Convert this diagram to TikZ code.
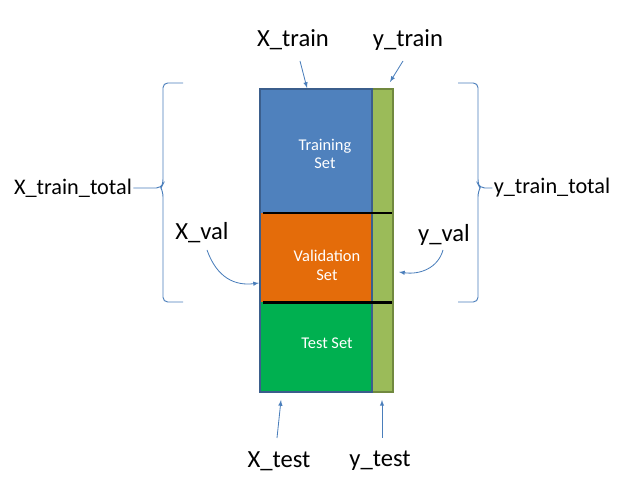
\documentclass[tikz,border=0pt]{standalone}
\usepackage{fontspec}
\setmainfont{Carlito}
\usetikzlibrary{positioning}
\definecolor{setblue}{HTML}{4F81BD}
\definecolor{setorange}{HTML}{E46C0A}
\definecolor{setgreen}{HTML}{00B050}
\definecolor{striplime}{HTML}{9BBB59}
\definecolor{stripedge}{HTML}{71893F}
\definecolor{boxedge}{HTML}{3B5E8C}
\definecolor{callout}{HTML}{4A7EBB}
\begin{document}
\begin{tikzpicture}[x=0.03cm, y=-0.03cm]

    % Styles
    \tikzstyle{setbox} = [rectangle, minimum width=3.36cm, inner sep=0pt, outer sep=0pt]
    \tikzstyle{settext} = [text=white, font=\fontsize{14}{16}\selectfont, align=center, inner sep=1pt]
    \tikzstyle{biglabel} = [font=\fontsize{21}{24}\selectfont, inner sep=1pt]
    \tikzstyle{totallabel} = [font=\fontsize{19}{22}\selectfont, inner sep=1pt]
    \tikzstyle{arrow} = [callout, line width=0.7pt, -latex]
    \tikzstyle{brace} = [callout, line width=0.8pt, rounded corners=4pt]

    \useasboundingbox (0,0) rectangle (634,488);

    % Noeuds
    \node (train) [setbox, minimum height=3.72cm, fill=setblue] at (316,151) {};
    \node (val) [setbox, minimum height=2.67cm, fill=setorange] at (316,258) {};
    \node (test) [setbox, minimum height=2.7cm, fill=setgreen] at (316,347) {};
    \node (strip) [rectangle, minimum width=0.63cm, minimum height=9.09cm, inner sep=0pt, fill=striplime, draw=stripedge, line width=2pt] at (382.5,240.5) {};
    \draw [boxedge, line width=2.5pt] (train.north west) rectangle (test.south east);
    \draw [line width=2.4pt] (263,213) -- (392,213);
    \draw [line width=2.4pt] (263,302.5) -- (392,302.5);

    \node (train-txt) [settext] at (325,154) {Training\\Set};
    \node (val-txt) [settext] at (327,265) {Validation\\Set};
    \node (test-txt) [settext] at (327,343) {Test Set};

    \node (xtrain) [biglabel] at (293,40) {X\_train};
    \node (ytrain) [biglabel] at (408,40) {y\_train};
    \node (xval) [biglabel] at (202,233) {X\_val};
    \node (yval) [biglabel] at (444,235) {y\_val};
    \node (xtest) [biglabel] at (279,461) {X\_test};
    \node (ytest) [biglabel] at (380,461) {y\_test};
    \node (xtotal) [totallabel] at (73,188) {X\_train\_total};
    \node (ytotal) [totallabel] at (552,188) {y\_train\_total};

    \coordinate (xtrain-end) at (307,88);
    \coordinate (ytrain-end) at (390,82);
    \coordinate (xval-end) at (259,283);
    \coordinate (yval-end) at (399,272);
    \coordinate (xtest-end) at (281,400);
    \coordinate (ytest-end) at (382,400);

    % Accolades
    \draw [brace] (xtotal.east) -- (161,188) -- (163,184) -- (163,83) -- (183,83);
    \draw [brace] (161,188) -- (163,192) -- (163,302) -- (183,302);
    \draw [brace] (ytotal.west) -- (480,188) -- (478,184) -- (478,83) -- (458,83);
    \draw [brace] (480,188) -- (478,192) -- (478,302) -- (458,302);

    % Flèches
    \draw [arrow] (300,61) -- (xtrain-end);
    \draw [arrow] (403,61) -- (ytrain-end);
    \draw [arrow] (207,250) .. controls (217,278) and (235,286) .. (xval-end);
    \draw [arrow] (443,250) .. controls (438,268) and (420,275) .. (yval-end);
    \draw [arrow] (277,438) -- (xtest-end);
    \draw [arrow] (382,438) -- (ytest-end);

\end{tikzpicture}
\end{document}
